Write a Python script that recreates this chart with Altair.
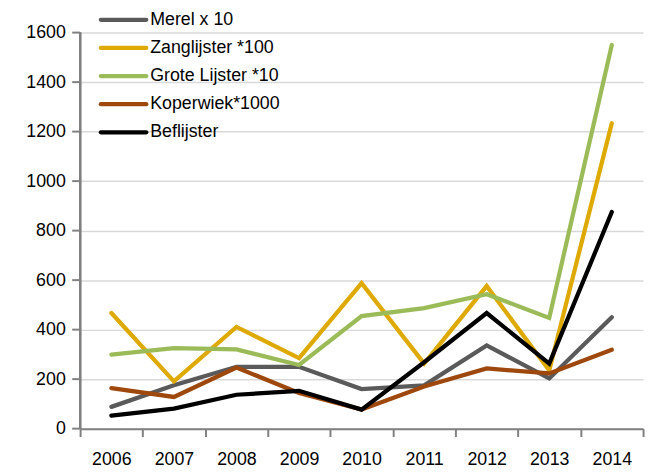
import altair as alt
import pandas as pd

years = ["2006", "2007", "2008", "2009", "2010", "2011", "2012", "2013", "2014"]
series_names = ["Merel x 10", "Zanglijster *100", "Grote Lijster *10", "Koperwiek*1000", "Beflijster"]
merel = [88, 175, 250, 250, 160, 175, 336, 203, 450]
zanglijster = [467, 191, 411, 285, 588, 263, 576, 235, 1234]
grote_lijster = [299, 325, 320, 257, 455, 487, 543, 447, 1550]
koperwiek = [164, 128, 247, 144, 77, 170, 243, 223, 319]
beflijster = [53, 81, 137, 153, 77, 268, 467, 263, 875]
y_ticks = [0, 200, 400, 600, 800, 1000, 1200, 1400, 1600]
colors = ["#5A5A5A", "#DEA900", "#9BBB59", "#9E480E", "#000000"]

values = [merel, zanglijster, grote_lijster, koperwiek, beflijster]
rows = []
for i, (name, vals) in enumerate(zip(series_names, values)):
    for y, v in zip(years, vals):
        rows.append({"series": name, "order": i, "year": y, "value": v})
df = pd.DataFrame(rows)
leg = pd.DataFrame({"series": series_names, "order": list(range(len(series_names)))})
ticks_df = pd.DataFrame({"tick": y_ticks})

FONT = "Liberation Sans"
AXIS_GRAY = "#808080"
color_scale = alt.Scale(domain=series_names, range=colors)
y_scale = alt.Scale(domain=[0, 1600], nice=False)

lines = alt.Chart(df).mark_line(strokeWidth=4.3, strokeCap="round", strokeJoin="miter").encode(
    x=alt.X("year:N", title=None, scale=alt.Scale(paddingInner=0, paddingOuter=0),
            axis=alt.Axis(labelAngle=0, tickBand="extent", tickSize=8, labelPadding=14,
                          labelFontSize=18, labelFont=FONT, labelColor="#000",
                          domain=True, ticks=True,
                          domainColor=AXIS_GRAY, domainWidth=2, tickColor=AXIS_GRAY,
                          tickWidth=2, grid=False)),
    y=alt.Y("value:Q", title=None, scale=y_scale,
            axis=alt.Axis(values=y_ticks, format="d", tickSize=8, labelPadding=15, orient="left",
                          labelFontSize=18, labelFont=FONT, labelColor="#000",
                          domain=False, ticks=False,
                          gridColor="#D9D9D9", gridWidth=1.5)),
    color=alt.Color("series:N", scale=color_scale, legend=None),
    order=alt.Order("order:Q"),
    detail="series:N",
)

# y-axis line and ticks
y_domain = alt.Chart(ticks_df).mark_rule(color=AXIS_GRAY, strokeWidth=2).encode(
    x=alt.value(0), y=alt.value(0), y2=alt.value(401)
)
y_tick_marks = alt.Chart(ticks_df).mark_rule(color=AXIS_GRAY, strokeWidth=2).encode(
    x=alt.value(-8), x2=alt.value(0), y=alt.Y("tick:Q", scale=y_scale, axis=None)
)

leg_y = alt.Y("series:N", sort=series_names, axis=None,
              scale=alt.Scale(type="point", range=[-13, 101], padding=0))

leg_rules = alt.Chart(leg).mark_rule(strokeWidth=4.3, strokeCap="round").encode(
    x=alt.value(21), x2=alt.value(67), y=leg_y,
    color=alt.Color("series:N", scale=color_scale, legend=None),
)
leg_text = alt.Chart(leg).mark_text(align="left", baseline="middle", font=FONT, fontSize=18,
                                    color="#000").encode(
    x=alt.value(71), y=leg_y, text="series:N",
)

chart = alt.layer(lines, y_domain, y_tick_marks, leg_rules, leg_text).resolve_scale(
    y="independent"
).properties(
    width=570, height=401,
    autosize=alt.AutoSizeParams(type="none"),
    padding={"left": 73, "top": 22, "right": 6, "bottom": 42},
).configure_view(stroke=None)

chart.save("out.html", embed_options={"renderer": "svg", "actions": False})
